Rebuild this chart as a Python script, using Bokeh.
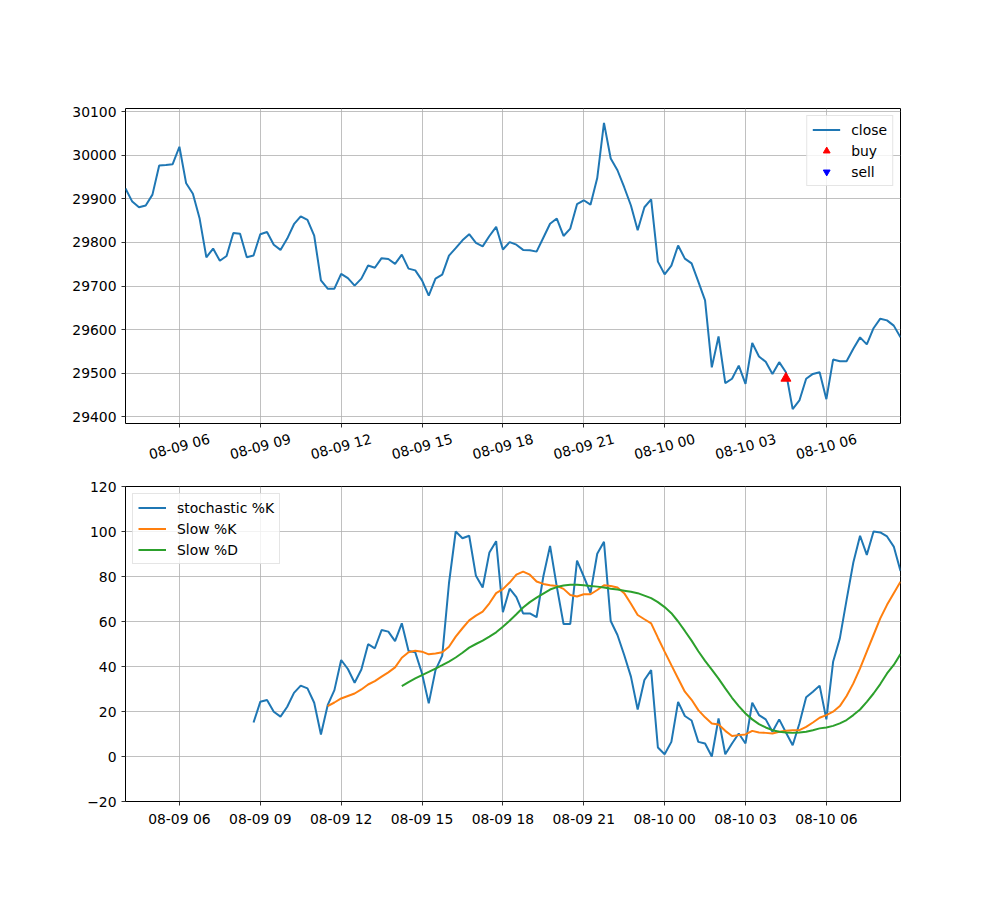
import math
import numpy as np
import pandas as pd
from bokeh.plotting import figure
from bokeh.layouts import column
from bokeh.models import Range1d, SingleIntervalTicker, FixedTicker, DatetimeTickFormatter, Label
from bokeh.embed import file_html
from bokeh.resources import INLINE

nan = float("nan")

# ---------------- data ----------------
start_time = "2023-08-09 04:00"
interval = "15min"

close = [29924, 29894, 29881, 29885, 29910, 29977, 29978, 29980, 30020, 29936,
         29912, 29855, 29766, 29786, 29758, 29769, 29822, 29820, 29766, 29770,
         29819, 29824, 29795, 29783, 29809, 29842, 29860, 29852, 29816, 29713,
         29694, 29694, 29728, 29718, 29701, 29717, 29747, 29742, 29764, 29762,
         29751, 29772, 29740, 29736, 29713, 29678, 29717, 29726, 29770, 29787,
         29805, 29819, 29799, 29791, 29815, 29836, 29784, 29801, 29795, 29783,
         29782, 29779, 29811, 29843, 29855, 29815, 29832, 29888, 29897, 29887,
         29948, 30075, 29993, 29966, 29927, 29885, 29828, 29881, 29899, 29756,
         29727, 29747, 29793, 29763, 29752, 29710, 29667, 29513, 29584, 29477,
         29487, 29517, 29475, 29569, 29538, 29526, 29498, 29525, 29502, 29417,
         29437, 29487, 29498, 29502, 29440, 29531, 29527, 29527, 29556, 29582,
         29566, 29603, 29625, 29621, 29609, 29582]

stoch_k = [nan] * 19 + [
    15.1, 24.3, 25.1, 19.9, 17.7, 22.1, 28.3, 31.5, 30.3, 23.9,
    9.8, 22.8, 29.5, 42.9, 38.9, 32.8, 38.7, 49.9, 48.1, 56.2,
    55.5, 51.3, 59.2, 46.9, 46.3, 36.9, 23.6, 38.4, 44.8, 77.0,
    100.0, 97.0, 98.1, 80.3, 75.1, 90.7, 95.7, 64.1, 74.6, 70.8,
    63.6, 63.6, 61.9, 80.0, 93.6, 75.5, 58.9, 58.9, 87.1, 80.0,
    72.6, 90.1, 95.4, 60.2, 54.0, 45.1, 35.5, 20.9, 34.0, 38.4,
    4.0, 1.0, 6.5, 24.3, 18.0, 16.0, 6.5, 5.8, 0.0, 16.9,
    1.0, 5.8, 10.2, 5.8, 23.9, 18.4, 16.5, 11.0, 16.5, 10.7,
    5.0, 14.7, 26.3, 28.8, 31.5, 16.5, 42.1, 52.5, 69.6, 86.2,
    98.1, 89.6, 100.0, 99.6, 97.8, 93.3, 82.5]

slow_k = [nan] * 30 + [
    22.4, 24.0, 25.8, 26.9, 28.0, 29.8, 32.0, 33.5, 35.5, 37.4,
    39.6, 43.9, 46.3, 47.0, 46.6, 45.4, 45.8, 46.3, 48.8, 53.3,
    57.0, 60.5, 62.6, 64.4, 68.1, 72.6, 74.4, 77.3, 80.8, 82.2,
    80.8, 77.8, 76.7, 76.1, 75.8, 74.5, 71.8, 71.1, 72.1, 72.1,
    74.0, 76.1, 75.8, 75.1, 72.6, 67.9, 62.9, 61.0, 59.2, 52.8,
    46.6, 40.6, 34.7, 28.8, 25.2, 20.6, 17.4, 14.7, 14.2, 11.4,
    9.1, 9.5, 9.8, 11.4, 10.7, 10.5, 10.2, 11.0, 11.4, 11.7,
    11.7, 13.2, 15.1, 17.2, 18.4, 19.9, 22.4, 26.9, 32.5, 39.2,
    46.6, 54.0, 61.4, 67.4, 72.6, 77.7]

slow_d = [nan] * 41 + [
    31.3, 33.1, 34.7, 36.2, 37.6, 39.1, 40.6, 42.2, 44.0, 46.1,
    48.4, 50.0, 51.5, 53.3, 55.2, 57.7, 60.3, 63.2, 66.2, 68.6,
    70.6, 72.4, 74.2, 75.3, 76.0, 76.3, 76.3, 76.1, 75.8, 75.5,
    75.1, 74.6, 74.2, 73.7, 73.2, 72.6, 71.5, 70.4, 68.6, 66.4,
    63.7, 60.0, 55.8, 51.5, 46.8, 42.5, 38.6, 34.6, 30.3, 26.1,
    22.4, 19.1, 16.5, 14.4, 12.9, 11.7, 11.0, 10.7, 10.5, 10.7,
    11.0, 11.7, 12.5, 12.9, 13.6, 14.7, 16.2, 18.4, 20.9, 24.3,
    28.0, 32.2, 36.9, 40.7, 45.5]

buy_index = [98]
buy_price = [29488]
sell_index = []
sell_price = []

tick_labels = ["08-09 06", "08-09 09", "08-09 12", "08-09 15", "08-09 18",
               "08-09 21", "08-10 00", "08-10 03", "08-10 06"]
year = "2023"

# ---------------- build ----------------
times = pd.date_range(start_time, periods=len(close), freq=interval)
tick_ms = [pd.to_datetime(year + "-" + t, format="%Y-%m-%d %H").value / 1e6 for t in tick_labels]

FONT = "DejaVu Sans"
FS = "13.9px"
C_BLUE, C_ORANGE, C_GREEN = "#1f77b4", "#ff7f0e", "#2ca02c"
FRAME_W, FRAME_H = 775, 315
B1 = 5       # bottom border of upper chart (holds its tick marks)
B2 = 9       # top border of lower chart
GAP_H = 63 - B1 - B2  # strip holding the upper chart's rotated tick labels


def style_axis(ax):
    ax.axis_line_color = None
    ax.major_tick_line_color = "black"
    ax.major_tick_line_width = 0.8
    ax.major_tick_out = 4
    ax.major_tick_in = 0
    ax.minor_tick_line_color = None
    ax.major_label_text_font = FONT
    ax.major_label_text_font_size = FS
    ax.major_label_text_color = "black"


def style(p):
    p.outline_line_color = "black"
    p.outline_line_width = 1
    p.grid.grid_line_color = "#b0b0b0"
    p.grid.grid_line_width = 0.8
    p.xgrid.ticker = FixedTicker(ticks=tick_ms)
    for ax in p.axis:
        style_axis(ax)


def style_legend(p, loc):
    lg = p.legend[0]
    lg.location = loc
    lg.margin = 7
    lg.padding = 5
    lg.spacing = 4
    lg.glyph_width = 28
    lg.glyph_height = 17
    lg.label_height = 17
    lg.label_standoff = 11
    lg.label_text_font = FONT
    lg.label_text_font_size = FS
    lg.label_text_color = "black"
    lg.border_line_color = "#cccccc"
    lg.border_line_width = 1
    lg.background_fill_alpha = 0.8


xr = Range1d(times[0], times[-1])
cmin, cmax = min(close), max(close)
pad = 0.05 * (cmax - cmin)
y1_lo, y1_hi = cmin - pad, cmax + pad

# ---- upper chart ----
p1 = figure(x_axis_type="datetime", output_backend="svg", toolbar_location=None,
            title=None, x_range=xr, y_range=Range1d(y1_lo, y1_hi),
            frame_width=FRAME_W, frame_height=FRAME_H,
            min_border_left=125, min_border_right=100,
            min_border_top=108, min_border_bottom=B1)
p1.line(times, close, line_color=C_BLUE, line_width=2, legend_label="close")
p1.scatter([times[i] for i in buy_index], buy_price, marker="triangle", size=10,
           fill_color="red", line_color="red", legend_label="buy")
p1.scatter([times[i] for i in sell_index] or [times[0]], sell_price or [nan],
           marker="inverted_triangle", size=10,
           fill_color="blue", line_color="blue", legend_label="sell")
style(p1)
p1.yaxis.ticker = SingleIntervalTicker(interval=100)
# x ticks of the upper chart: marks only (labels are drawn rotated in the strip below)
p1.xaxis.ticker = FixedTicker(ticks=[], minor_ticks=tick_ms)
p1.xaxis.minor_tick_line_color = "black"
p1.xaxis.minor_tick_line_width = 0.8
p1.xaxis.minor_tick_out = 4
p1.xaxis.minor_tick_in = 0
p1.xaxis.major_label_standoff = 0
style_legend(p1, "top_right")

# ---- strip: rotated labels of the upper chart, centred on the ticks ----
pl = figure(x_axis_type="datetime", output_backend="svg", toolbar_location=None,
            title=None, x_range=xr, y_range=Range1d(0, GAP_H),
            frame_width=FRAME_W, frame_height=GAP_H,
            min_border_left=125, min_border_right=100,
            min_border_top=0, min_border_bottom=0,
            x_axis_location=None, y_axis_location=None)
pl.outline_line_color = None
pl.grid.visible = False
for t_ms, lbl in zip(tick_ms, tick_labels):
    pl.add_layout(Label(x=t_ms, y=GAP_H - (23 - B1), text=lbl,
                        angle=math.radians(15), text_align="center",
                        text_baseline="middle", text_font=FONT,
                        text_font_size=FS, text_color="black"))

# ---- lower chart ----
p2 = figure(x_axis_type="datetime", output_backend="svg", toolbar_location=None,
            title=None, x_range=xr, y_range=Range1d(-20, 120),
            frame_width=FRAME_W, frame_height=FRAME_H,
            min_border_left=125, min_border_right=100,
            min_border_top=B2, min_border_bottom=99)
p2.line(times, stoch_k, line_color=C_BLUE, line_width=2, legend_label="stochastic %K")
p2.line(times, slow_k, line_color=C_ORANGE, line_width=2, legend_label="Slow %K")
p2.line(times, slow_d, line_color=C_GREEN, line_width=2, legend_label="Slow %D")
style(p2)
p2.xaxis.ticker = FixedTicker(ticks=tick_ms)
p2.xaxis.formatter = DatetimeTickFormatter(
    hours="%m-%d %H", hourmin="%m-%d %H", days="%m-%d %H",
    minutes="%m-%d %H", minsec="%m-%d %H", seconds="%m-%d %H",
    months="%m-%d %H", years="%m-%d %H")
p2.yaxis.ticker = SingleIntervalTicker(interval=20)
p2.yaxis.major_label_overrides = {-20: "\u221220"}
style_legend(p2, "top_left")

layout = column(p1, pl, p2, spacing=0)
open("out.html", "w").write(file_html(layout, INLINE))
